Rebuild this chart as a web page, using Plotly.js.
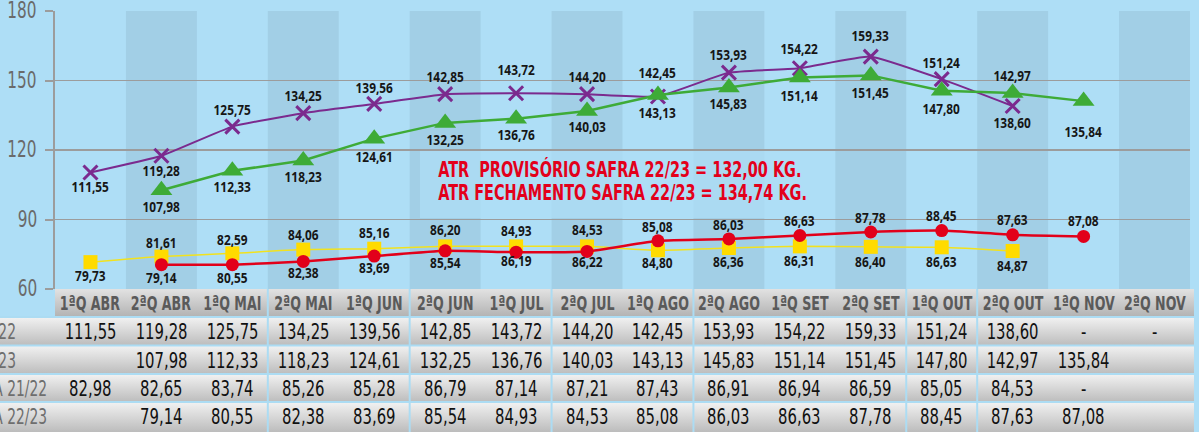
<!DOCTYPE html>
<html>
<head>
<meta charset="utf-8">
<script src="https://cdn.plot.ly/plotly-3.0.1.min.js"></script>
<style>html,body{margin:0;padding:0;background:#aedef6;}#chart{width:1199px;height:432px;}</style>
</head>
<body>
<div id="chart"></div>
<script>
// ---------- DATA ----------
const categories = ['1ªQ ABR','2ªQ ABR','1ªQ MAI','2ªQ MAI','1ªQ JUN','2ªQ JUN','1ªQ JUL','2ªQ JUL','1ªQ AGO','2ªQ AGO','1ªQ SET','2ªQ SET','1ªQ OUT','2ªQ OUT','1ªQ NOV','2ªQ NOV'];
const rowNames = ['ATR 21/22','ATR 22/23','PUREZA 21/22','PUREZA 22/23'];

// table values ('-' = dash shown, null = blank)
const atr2122 = [111.55,119.28,125.75,134.25,139.56,142.85,143.72,144.20,142.45,153.93,154.22,159.33,151.24,138.60,'-','-'];
const atr2223 = [null,107.98,112.33,118.23,124.61,132.25,136.76,140.03,143.13,145.83,151.14,151.45,147.80,142.97,135.84,null];
const pur2122 = [82.98,82.65,83.74,85.26,85.28,86.79,87.14,87.21,87.43,86.91,86.94,86.59,85.05,84.53,'-',null];
const pur2223 = [null,79.14,80.55,82.38,83.69,85.54,84.93,84.53,85.08,86.03,86.63,87.78,88.45,87.63,87.08,null];

// point positions as drawn in the picture (read against the left axis)
const purpleX = [0,1,2,3,4,5,6,7,8,9,10,11,12,13];
const purpleY = [110.3,117.5,130.1,135.9,139.9,144.1,144.5,144.1,143.1,153.4,155.3,160.3,150.6,139.0];
const greenX  = [1,2,3,4,5,6,7,8,9,10,11,12,13,14];
const greenY  = [102.6,111.0,115.5,124.9,131.7,133.5,136.8,143.7,147.0,151.3,152.2,145.6,144.6,141.1];
const yellowX = [0,1,2,3,4,5,6,7,8,9,10,11,12,13];
const yellowY = [71.6,74.0,75.4,77.0,77.4,78.4,78.4,78.4,76.7,77.7,78.4,78.2,78.0,76.4];
const redX    = [1,2,3,4,5,6,7,8,9,10,11,12,13,14];
const redY    = [70.5,70.5,71.9,74.2,76.5,75.9,76.2,80.8,81.6,83.1,84.6,85.2,83.4,82.7];

// labels printed next to the points
const purpleLabels = [111.55,119.28,125.75,134.25,139.56,142.85,143.72,144.20,142.45,153.93,154.22,159.33,151.24,138.60];
const greenLabels  = [107.98,112.33,118.23,124.61,132.25,136.76,140.03,143.13,145.83,151.14,151.45,147.80,142.97,135.84];
const yellowLabels = [79.73,81.61,82.59,84.06,85.16,86.20,84.93,84.53,84.80,86.36,86.31,86.40,86.63,84.87];
const redLabels    = [79.14,80.55,82.38,83.69,85.54,86.19,86.22,85.08,86.03,86.63,87.78,88.45,87.63,87.08];

const yTicks = [60,90,120,150,180];
const noteLines = ['ATR  PROVISÓRIO SAFRA 22/23 = 132,00 KG.','ATR FECHAMENTO SAFRA 22/23 = 134,74 KG.'];

// ---------- LAYOUT HELPERS ----------
const W = 1199, H = 432, ML = 55, MR = 9, MT = 11, MB = 143;
const PW = W - ML - MR, PH = H - MT - MB;
const px = X => (X - ML) / PW;            // pixel x -> paper
const py = Y => (H - MB - Y) / PH;        // pixel y -> paper
const colW = PW / categories.length;
const colCenter = i => ML + colW * (i + 0.5);
const fmt = v => (v === null ? '' : (typeof v === 'string' ? v : v.toFixed(2).replace('.', ',')));

const COND = 'DejaVu Sans Condensed, DejaVu Sans, sans-serif';
const LABELF = 'Open Sans, Liberation Sans, sans-serif';

// label offsets (px, + = up)
const purpleOff = [-15,-15,17,17,16,17,23,17,23,18,19,21,16,-17];
const greenOff  = [-17,-16,-17,-18,-17,-16,-16,-18,-17,-19,-18,-18,17,-31];
const yellowOff = [-14,14,13,15,16,16,15,16,-13,-14,-15,-15,-15,-15];
const redOff    = [-13,-13,-12,-12,-12,-9,-11,14,14,14,14,15,15,15];

const shapes = [];
const annotations = [];
const images = [];
const squeeze = [];   // [annotation index, horizontal scale, anchor]
function addAnn(a, s, anchor) {
  annotations.push(a);
  if (s) squeeze.push([annotations.length - 1, s, anchor || 'center']);
}

// alternating darker columns
categories.forEach((c, i) => {
  if (i % 2 === 1) {
    shapes.push({type:'rect', xref:'x', yref:'paper', x0:i-0.5, x1:i+0.5, y0:0, y1:1,
      fillcolor:'#a2cfe6', line:{width:0}, layer:'below'});
  }
});
// light panel behind the note
shapes.push({type:'rect', xref:'paper', yref:'paper', x0:px(420), x1:px(822), y0:py(218), y1:py(151),
  fillcolor:'rgba(174,222,246,0.75)', line:{width:0}, layer:'below'});

// table gradients
function grad(top, bottom) {
  const svg = "<svg xmlns='http://www.w3.org/2000/svg' width='10' height='10' viewBox='0 0 10 10' preserveAspectRatio='none'>" +
    "<defs><linearGradient id='g' x1='0' y1='0' x2='0' y2='1'><stop offset='0' stop-color='" + top + "'/>" +
    "<stop offset='1' stop-color='" + bottom + "'/></linearGradient></defs><rect width='10' height='10' fill='url(#g)'/></svg>";
  return 'data:image/svg+xml;charset=utf-8,' + encodeURIComponent(svg);
}
const rowTops = [289, 317, 345.5, 374, 402];
const rowBots = [317, 345.5, 374, 402, 432];
images.push({source:grad('#e2e2e2','#b2b2b2'), xref:'paper', yref:'paper', x:px(55), y:py(289),
  sizex:px(1194)-px(55), sizey:py(289)-py(317), xanchor:'left', yanchor:'top', sizing:'stretch', layer:'above'});
for (let r = 1; r < 5; r++) {
  images.push({source:grad('#f2f2f2','#bcbcbc'), xref:'paper', yref:'paper', x:px(0), y:py(rowTops[r]),
    sizex:px(1194)-px(0), sizey:py(rowTops[r])-py(rowBots[r]), xanchor:'left', yanchor:'top', sizing:'stretch', layer:'above'});
}
// separators
[317, 345.5, 374, 402].forEach(Y => shapes.push({type:'line', xref:'paper', yref:'paper', x0:px(0), x1:px(1194), y0:py(Y), y1:py(Y),
  line:{color:'#acdcf3', width:2}, layer:'above'}));
[3, 5, 7, 9, 12, 13].forEach(k => {
  const X = ML + colW * k;
  shapes.push({type:'line', xref:'paper', yref:'paper', x0:px(X), x1:px(X), y0:py(289), y1:py(432),
    line:{color:'#acdcf3', width:2}, layer:'above'});
});

// y tick labels
yTicks.forEach(t => addAnn({xref:'paper', yref:'y', x:px(39), y:t, yshift:1, text:String(t), showarrow:false,
  xanchor:'right', yanchor:'middle', font:{family:COND, size:23, color:'#6a6a6a'}}, 0.74, 'right'));

// header texts
categories.forEach((c, i) => {
  addAnn({xref:'paper', yref:'paper', x:px(colCenter(i)), y:py(303.5), text:c, showarrow:false,
    xanchor:'center', yanchor:'middle', font:{family:COND, size:19.5, color:'#5a5a5a', weight:700}}, 0.72);
});
// table rows
const tableRows = [atr2122, atr2223, pur2122, pur2223];
const rowCY = [331.5, 360, 388.5, 416.5];
const rowLabelRight = [18, 18, 49, 49];
tableRows.forEach((row, r) => {
  addAnn({xref:'paper', yref:'paper', x:px(rowLabelRight[r]), y:py(rowCY[r]), text:rowNames[r], showarrow:false,
    xanchor:'right', yanchor:'middle', font:{family:COND, size:22, color:'#6e6e6e'}}, 0.70, 'right');
  row.forEach((v, i) => {
    if (v === null) return;
    addAnn({xref:'paper', yref:'paper', x:px(colCenter(i)), y:py(rowCY[r]), text:fmt(v), showarrow:false,
      xanchor:'center', yanchor:'middle', font:{family:COND, size:22, color:'#111111'}}, 0.75);
  });
});

// point labels
function addLabels(xs, ys, labels, offs) {
  xs.forEach((x, k) => {
    addAnn({xref:'x', yref:'y', x:x, y:ys[k], text:fmt(labels[k]), showarrow:false,
      xanchor:'center', yanchor:'middle', yshift:offs[k],
      font:{family:LABELF, size:13.5, color:'#161616', weight:700}}, 0.88);
  });
}
addLabels(purpleX, purpleY, purpleLabels, purpleOff);
addLabels(greenX, greenY, greenLabels, greenOff);
addLabels(yellowX, yellowY, yellowLabels, yellowOff);
addLabels(redX, redY, redLabels, redOff);

// note
addAnn({xref:'paper', yref:'paper', x:px(620), y:py(169.5), text:noteLines[0], showarrow:false,
  xanchor:'center', yanchor:'middle', font:{family:COND, size:22, color:'#e3001b', weight:700}}, 0.73);
addAnn({xref:'paper', yref:'paper', x:px(622), y:py(192), text:noteLines[1], showarrow:false,
  xanchor:'center', yanchor:'middle', font:{family:COND, size:22, color:'#e3001b', weight:700}}, 0.73);

const traces = [
  {x:yellowX, y:yellowY, type:'scatter', mode:'lines+markers', line:{color:'#f2e21e', width:1.5, shape:'spline', smoothing:0.5},
   marker:{symbol:'square', size:14, color:'#ffdb00'}, hoverinfo:'skip'},
  {x:redX, y:redY, type:'scatter', mode:'lines+markers', line:{color:'#e2001a', width:2.5, shape:'spline', smoothing:0.4},
   marker:{symbol:'circle', size:13, color:'#e2001a'}, hoverinfo:'skip'},
  {x:purpleX, y:purpleY, type:'scatter', mode:'lines+markers', line:{color:'#7b2a8e', width:2, shape:'spline', smoothing:0.4},
   marker:{symbol:'x-thin-open', size:14, line:{color:'#38288a', width:3}}, hoverinfo:'skip'},
  {x:greenX, y:greenY, type:'scatter', mode:'lines+markers', line:{color:'#3eab37', width:2.5},
   marker:{symbol:'triangle-up', size:19, color:'#3eab37'}, hoverinfo:'skip'}
];

const layout = {
  width:W, height:H, margin:{l:ML, r:MR, t:MT, b:MB, pad:0},
  paper_bgcolor:'#aedef6', plot_bgcolor:'#aedef6', showlegend:false,
  xaxis:{range:[-0.5, 15.5], showgrid:false, zeroline:false, showticklabels:false, ticks:'', showline:false, fixedrange:true},
  yaxis:{range:[60,180], tickvals:yTicks, showgrid:true, gridcolor:'#9c9c9c', gridwidth:1.6, showticklabels:false,
    zeroline:false, showline:true, linecolor:'#9c9c9c', linewidth:2, ticks:'outside', ticklen:8, tickwidth:2, tickcolor:'#9c9c9c',
    fixedrange:true},
  shapes:shapes, annotations:annotations, images:images
};

function squeezeTexts() {
  const gd = document.getElementById('chart');
  const map = {};
  squeeze.forEach(s => { map[s[0]] = s; });
  gd.querySelectorAll('g.annotation').forEach(g => {
    const idx = +g.getAttribute('data-index');
    const s = map[idx];
    if (!s) return;
    const t = g.querySelector('text.annotation-text');
    if (!t) return;
    const bb = t.getBBox();
    const ax = s[2] === 'right' ? bb.x + bb.width : (s[2] === 'left' ? bb.x : bb.x + bb.width / 2);
    const prev = t.getAttribute('transform') || '';
    t.setAttribute('transform', prev + ' translate(' + ax + ',0) scale(' + s[1] + ',1) translate(' + (-ax) + ',0)');
  });
}

Plotly.newPlot('chart', traces, layout, {displayModeBar:false, staticPlot:true}).then(squeezeTexts);
</script>
</body>
</html>
